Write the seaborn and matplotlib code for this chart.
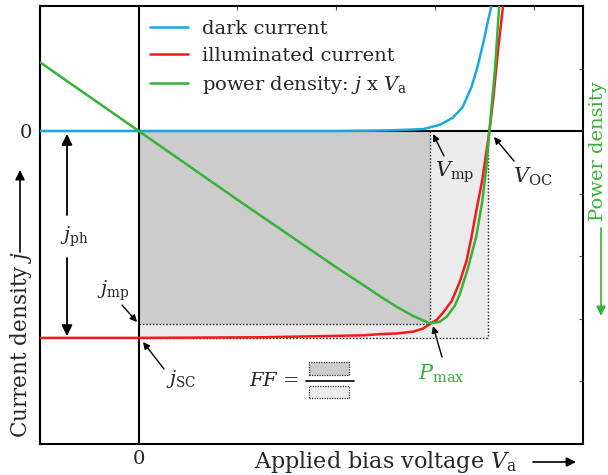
import numpy as np
import pandas as pd
import matplotlib
matplotlib.use("Agg")
import matplotlib.pyplot as plt
from matplotlib.patches import Rectangle
from matplotlib.lines import Line2D
import seaborn as sns

# ---------------- data ----------------
dark_v = [-1.0, 2.0, 2.3, 2.54, 2.88, 3.05, 3.18, 3.28, 3.37, 3.43, 3.49, 3.54, 3.57, 3.60]
dark_j = [0.0, 0.0, 0.005, 0.01, 0.03, 0.10, 0.21, 0.38, 0.70, 1.02, 1.41, 1.78, 1.98, 2.3]

illum_v = [-1.0, 0.0, 1.26, 2.27, 2.44, 2.61, 2.78, 2.88, 2.95, 3.02, 3.08, 3.17, 3.25,
           3.32, 3.37, 3.42, 3.48, 3.55, 3.59, 3.64, 3.69, 3.72]
illum_j = [-3.31, -3.31, -3.30, -3.27, -3.25, -3.24, -3.21, -3.16, -3.09, -3.02, -2.91,
           -2.72, -2.42, -2.08, -1.70, -1.27, -0.78, -0.03, 0.50, 1.30, 2.0, 2.5]

power_v = [-1.0, 0.0, 1.0, 2.0, 2.27, 2.44, 2.61, 2.78, 2.88, 2.95, 3.05, 3.12, 3.20,
           3.25, 3.33, 3.42, 3.48, 3.52, 3.55, 3.61, 3.65, 3.67]
power_p = [1.10, 0.0, -1.10, -2.18, -2.46, -2.64, -2.81, -2.96, -3.03, -3.08, -3.05,
           -2.97, -2.80, -2.62, -2.22, -1.68, -1.12, -0.60, -0.03, 1.02, 1.98, 2.4]

V_mp, j_mp = 2.95, -3.09
V_oc, j_sc = 3.54, -3.31

x_ticks = [-1, 0, 1, 2, 3, 4]
x_ticklabels = ["", "0", "", "", "", ""]
y_ticks = [-5, -4, -3, -2, -1, 0, 1, 2]
y_ticklabels = ["", "", "", "", "", "0", "", ""]

labels = ["dark current", "illuminated current", r"power density: $j$ x $V_\mathrm{a}$"]

# ---------------- style ----------------
sns.set_theme(style="white")
plt.rcParams["font.family"] = ["DejaVu Serif"]
plt.rcParams["mathtext.fontset"] = "dejavuserif"

BLUE = "#17a9e1"
RED = "#f41a1a"
GREEN = "#36b236"
DARKG = "#cccccc"
LIGHTG = "#ebebeb"

W, H = 608, 475
fig = plt.figure(figsize=(W / 100, H / 100), dpi=100)
L, R, T, B = 40, 583, 6, 443.5
ax = fig.add_axes([L / W, 1 - B / H, (R - L) / W, (B - T) / H])
ax.set_xlim(-1, 4.5)
ax.set_ylim(-5, 2)

# pixel -> data helper for annotation placement
def P(px, py):
    return (-1 + (px - L) / (R - L) * 5.5, 2 - (py - T) / (B - T) * 7)

# rectangles
ax.add_patch(Rectangle((0, 0), V_oc, j_sc, facecolor=LIGHTG, edgecolor="none", zorder=0))
ax.add_patch(Rectangle((0, 0), V_mp, j_mp, facecolor=DARKG, edgecolor="none", zorder=0.5))
dot = dict(color="#333333", lw=1.0, ls=(0, (1.2, 1.2)), zorder=1)
ax.plot([0, V_mp], [j_mp, j_mp], **dot)
ax.plot([V_mp, V_mp], [0, j_mp], **dot)
ax.plot([0, V_oc], [j_sc, j_sc], **dot)
ax.plot([V_oc, V_oc], [0, j_sc], **dot)

# zero axes lines
ax.axhline(0, color="black", lw=1.5, zorder=1.5)
ax.axvline(0, color="black", lw=1.5, zorder=1.5)

# curves
sns.lineplot(x=dark_v, y=dark_j, color=BLUE, lw=1.8, sort=False, ax=ax, zorder=3)
sns.lineplot(x=illum_v, y=illum_j, color=RED, lw=1.8, sort=False, ax=ax, zorder=3)
sns.lineplot(x=power_v, y=power_p, color=GREEN, lw=1.8, sort=False, ax=ax, zorder=3.5)

# legend
handles = [Line2D([], [], color=c, lw=1.8) for c in (BLUE, RED, GREEN)]
ax.legend(handles, labels, loc="upper left", frameon=False, fontsize=14,
          bbox_to_anchor=((150 - L) / (R - L), 1 - (20 - T) / (B - T)),
          borderpad=0, borderaxespad=0, handlelength=1.95, handletextpad=0.75,
          labelspacing=0.45)

# ticks
ax.set_xticks(x_ticks)
ax.set_xticklabels(x_ticklabels)
ax.set_yticks(y_ticks)
ax.set_yticklabels(y_ticklabels)
ax.tick_params(direction="in", length=3, width=0.8, color="#555555",
               top=True, right=True, labelsize=14, pad=6)
ax.tick_params(axis="x", pad=5)
for s in ax.spines.values():
    s.set_linewidth(1.5)
    s.set_color("black")
ax.set_xlabel("")
ax.set_ylabel("")

fs = 14
arr = dict(arrowstyle="-|>", color="black", lw=1.0, mutation_scale=10, shrinkA=0, shrinkB=0)

# j_ph double arrow
ax.annotate("", xy=P(67, 134), xytext=P(67, 215),
            arrowprops=dict(arrowstyle="-|>", color="black", lw=1.3, mutation_scale=16, shrinkA=0, shrinkB=0))
ax.annotate("", xy=P(67, 336), xytext=P(67, 258),
            arrowprops=dict(arrowstyle="-|>", color="black", lw=1.3, mutation_scale=16, shrinkA=0, shrinkB=0))
ax.text(*P(74, 237), r"$j_\mathrm{ph}$", fontsize=fs, ha="center", va="center")

# j_mp
ax.text(*P(113, 291), r"$j_\mathrm{mp}$", fontsize=fs, ha="center", va="center")
ax.annotate("", xy=P(137, 322), xytext=P(122, 305), arrowprops=arr)
# j_SC
ax.text(*P(181, 379), r"$j_\mathrm{SC}$", fontsize=fs, ha="center", va="center")
ax.annotate("", xy=P(143, 342), xytext=P(164, 369), arrowprops=arr)
# V_mp
ax.text(*P(455, 172), r"$V_\mathrm{mp}$", fontsize=fs + 1, ha="center", va="center")
ax.annotate("", xy=P(433, 134), xytext=P(444, 156), arrowprops=arr)
# V_OC
ax.text(*P(533, 177), r"$V_\mathrm{OC}$", fontsize=fs + 1, ha="center", va="center")
ax.annotate("", xy=P(494, 137), xytext=P(514, 161), arrowprops=arr)
# P_max
ax.text(*P(442, 374), r"$P_\mathrm{max}$", fontsize=fs + 1, ha="center", va="center", color=GREEN)
ax.annotate("", xy=P(433, 326), xytext=P(442, 357), arrowprops=arr)

# FF = fraction
ax.text(*P(274, 381), r"$FF$ =", fontsize=fs, ha="center", va="center")
ax.plot(*zip(P(306, 381), P(354, 381)), color="black", lw=1.2)
x0, y0 = P(309, 375)
x1, y1 = P(349, 362)
ax.add_patch(Rectangle((x0, y0), x1 - x0, y1 - y0, facecolor=DARKG, edgecolor="#333333",
                       lw=0.9, ls=(0, (1, 1))))
x0, y0 = P(309, 398)
x1, y1 = P(349, 386)
ax.add_patch(Rectangle((x0, y0), x1 - x0, y1 - y0, facecolor=LIGHTG, edgecolor="#333333",
                       lw=0.9, ls=(0, (1, 1))))

# axis labels with arrows (figure pixel coords)
def F(px, py):
    return (px / W, 1 - py / H)

fig.text(*F(386, 462), r"Applied bias voltage $V_\mathrm{a}$", fontsize=16, ha="center", va="center")
ax.annotate("", xy=F(576, 462), xytext=F(533, 462), xycoords="figure fraction",
            textcoords="figure fraction",
            arrowprops=dict(arrowstyle="-|>", color="black", lw=1.2, mutation_scale=14, shrinkA=0, shrinkB=0),
            annotation_clip=False)

fig.text(*F(21, 344), r"Current density $j$", fontsize=15.5, ha="center", va="center", rotation=90)
ax.annotate("", xy=F(20, 170), xytext=F(20, 252), xycoords="figure fraction",
            textcoords="figure fraction",
            arrowprops=dict(arrowstyle="-|>", color="black", lw=1.2, mutation_scale=14, shrinkA=0, shrinkB=0),
            annotation_clip=False)

fig.text(*F(598, 151), "Power density", fontsize=14, ha="center", va="center", rotation=90, color=GREEN)
ax.annotate("", xy=F(601, 316), xytext=F(601, 228), xycoords="figure fraction",
            textcoords="figure fraction",
            arrowprops=dict(arrowstyle="-|>", color=GREEN, lw=1.2, mutation_scale=14, shrinkA=0, shrinkB=0),
            annotation_clip=False)

fig.savefig("out.png", dpi=100)
